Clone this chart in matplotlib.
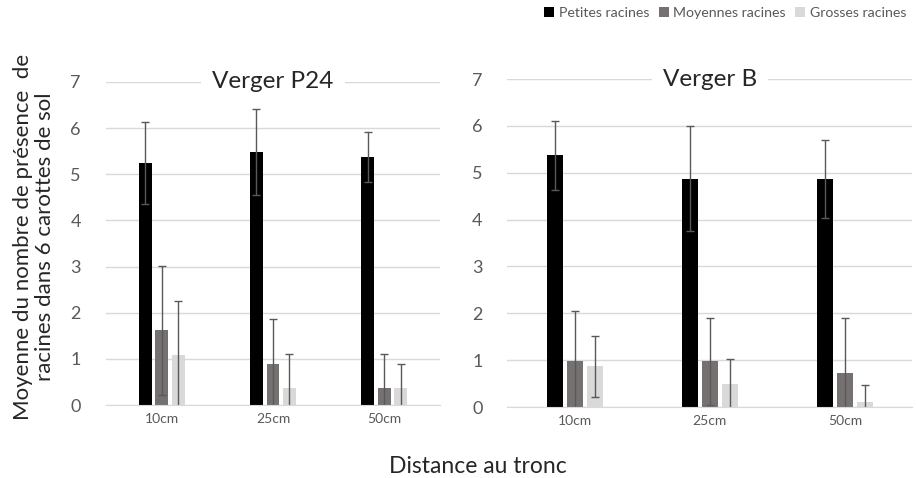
import matplotlib.pyplot as plt
import numpy as np
from matplotlib.patches import Patch

plt.rcParams['font.family'] = ['Lato', 'DejaVu Sans']

distances = ["10cm", "25cm", "50cm"]
series = ["Petites racines", "Moyennes racines", "Grosses racines"]
colors = ["#000000", "#767171", "#d9d9d9"]

# Verger P24
p24_means = [[5.25, 5.48, 5.37],
             [1.62, 0.88, 0.36],
             [1.09, 0.36, 0.36]]
p24_err = [[0.89, 0.93, 0.54],
           [1.40, 0.99, 0.75],
           [1.16, 0.75, 0.52]]

# Verger B
b_means = [[5.37, 4.875, 4.875],
           [0.98, 0.98, 0.73],
           [0.87, 0.485, 0.115]]
b_err = [[0.74, 1.12, 0.83],
         [1.07, 0.93, 1.18],
         [0.65, 0.53, 0.36]]

grid_c = "#d9d9d9"
txt_c = "#595959"


def draw(ax, means, errs, title):
    x = np.arange(len(distances))
    width = 0.115
    step = 0.148
    for i in range(3):
        ax.bar(x + (i - 1) * step, means[i], width, color=colors[i], zorder=2,
               yerr=errs[i], error_kw=dict(ecolor="#595959", elinewidth=1, capsize=3, capthick=1))
    ax.set_xlim(-0.5, 2.5)
    ax.set_ylim(0, 7)
    ax.set_yticks(range(8))
    ax.set_xticks(x)
    ax.set_xticklabels(distances, fontsize=10, color=txt_c)
    ax.tick_params(axis='y', labelsize=13, colors=txt_c, length=0, pad=18)
    ax.tick_params(axis='x', length=0, pad=6)
    ax.grid(axis='y', color=grid_c, lw=1, zorder=0)
    for s in ['top', 'right', 'left']:
        ax.spines[s].set_visible(False)
    ax.spines['bottom'].set_color(grid_c)
    ax.text(1.0, 7, title, ha='center', va='center', fontsize=17.5, color='#262626',
            bbox=dict(facecolor='white', edgecolor='none', pad=8), zorder=3, clip_on=False)


fig = plt.figure(figsize=(9.16, 4.78), dpi=100)
ax1 = fig.add_axes([0.1157, 0.1527, 0.3646, 0.676])
ax2 = fig.add_axes([0.554, 0.1485, 0.442, 0.686])
draw(ax1, p24_means, p24_err, "Verger P24")
draw(ax2, b_means, b_err, "Verger B")

fig.text(0.037, 0.505, "Moyenne du nombre de présence  de\nracines dans 6 carottes de sol",
         rotation=90, ha='center', va='center', fontsize=16, color='#262626', linespacing=1.15)
fig.text(0.522, 0.025, "Distance au tronc", ha='center', va='center', fontsize=16.5, color='#262626')

handles = [Patch(facecolor=c) for c in colors]
fig.legend(handles, series, loc='upper right', bbox_to_anchor=(1.003, 1.012), ncol=3, frameon=False,
           fontsize=10.2, handlelength=0.7, handleheight=0.7, handletextpad=0.3, columnspacing=0.7,
           labelcolor=txt_c)

fig.savefig("out.png", dpi=100)
